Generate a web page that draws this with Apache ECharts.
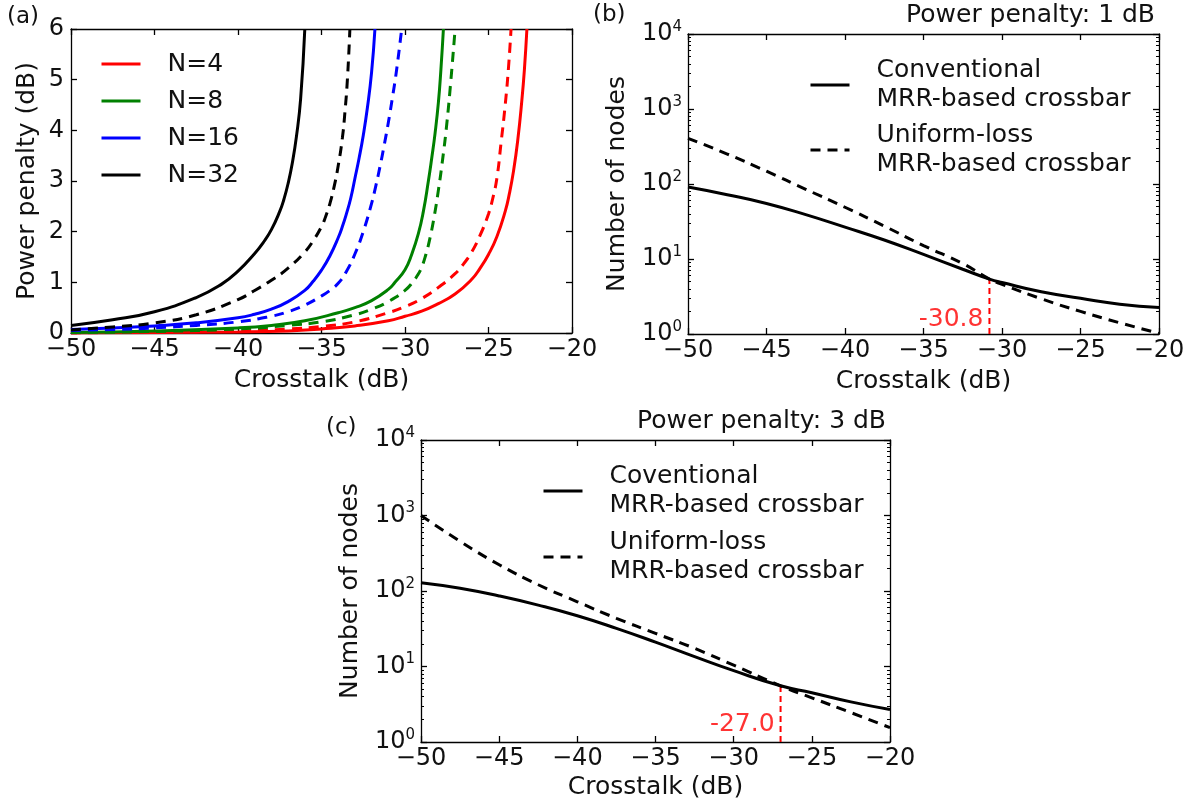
<!DOCTYPE html>
<html>
<head>
<meta charset="utf-8">
<script src="https://cdn.jsdelivr.net/npm/echarts@6/dist/echarts.min.js"></script>
<style>
html, body { margin: 0; padding: 0; background: #fff; }
#chart { width: 1195px; height: 807px; }
</style>
</head>
<body>
<div id="chart"></div>
<script>
// ---------- Panel (a): power penalty vs. crosstalk, [crosstalk dB, penalty dB] ----------
const nodeLabels = ['N=4', 'N=8', 'N=16', 'N=32'];
const nodeColors = ['#ff0000', '#008000', '#0000ff', '#000000'];

const ppConvN4 = [[-50,0.0],[-45,0.01],[-40,0.02],[-37,0.04],[-35,0.08],[-33,0.14],[-31,0.24],[-30,0.33],[-29,0.43],[-28,0.58],[-27,0.77],[-26,1.06],[-25.5,1.28],[-25,1.55],[-24.5,1.9],[-24,2.4],[-23.75,2.75],[-23.5,3.2],[-23.25,3.8],[-23,4.6],[-22.85,5.2],[-22.7,6.0]];
const ppUnifN4 = [[-50,0.0],[-45,0.02],[-40,0.04],[-37,0.08],[-35,0.13],[-33,0.22],[-31,0.4],[-30,0.52],[-29,0.68],[-28,0.9],[-27,1.17],[-26.5,1.36],[-26,1.6],[-25.5,1.93],[-25,2.35],[-24.75,2.65],[-24.5,3.05],[-24.25,3.75],[-24,4.5],[-23.8,5.25],[-23.65,6.0]];
const ppConvN8 = [[-50,0.01],[-45,0.04],[-40,0.1],[-38,0.15],[-36,0.24],[-34,0.4],[-33,0.5],[-32,0.64],[-31,0.86],[-30.6,1.0],[-30,1.25],[-29.6,1.55],[-29.2,1.96],[-28.9,2.4],[-28.6,3.0],[-28.4,3.45],[-28.2,3.94],[-28,4.55],[-27.85,5.2],[-27.7,6.0]];
const ppUnifN8 = [[-50,0.01],[-45,0.03],[-40,0.08],[-37,0.15],[-35,0.22],[-33,0.36],[-32,0.47],[-31,0.62],[-30,0.84],[-29.5,1.02],[-29.25,1.14],[-29,1.3],[-28.75,1.55],[-28.5,1.88],[-28.25,2.3],[-28,2.82],[-27.75,3.42],[-27.5,4.12],[-27.25,5.0],[-27.0,6.0]];
const ppConvN16 = [[-50,0.07],[-47.5,0.1],[-45,0.14],[-42.5,0.2],[-40,0.3],[-39,0.37],[-38,0.47],[-37,0.62],[-36,0.84],[-35.5,1.02],[-35,1.24],[-34.5,1.52],[-34,1.88],[-33.75,2.1],[-33.5,2.36],[-33.25,2.66],[-33,3.05],[-32.75,3.45],[-32.5,3.9],[-32.25,4.45],[-32,5.15],[-31.8,6.0]];
const ppUnifN16 = [[-50,0.05],[-47.5,0.07],[-45,0.1],[-42.5,0.15],[-40,0.22],[-38,0.33],[-37,0.42],[-36,0.55],[-35,0.73],[-34.5,0.84],[-34,0.98],[-33.5,1.22],[-33,1.56],[-32.5,2.0],[-32,2.56],[-31.75,2.9],[-31.5,3.28],[-31.25,3.7],[-31,4.15],[-30.75,4.65],[-30.5,5.2],[-30.2,6.0]];
const ppConvN32 = [[-50,0.15],[-47.5,0.26],[-45,0.42],[-42.5,0.7],[-41,0.96],[-40,1.22],[-39,1.57],[-38.5,1.78],[-38,2.04],[-37.5,2.4],[-37.25,2.64],[-37,2.95],[-36.75,3.35],[-36.5,3.88],[-36.25,4.62],[-36.0,6.0]];
const ppUnifN32 = [[-50,0.06],[-47.5,0.12],[-45,0.2],[-42.5,0.36],[-40,0.66],[-39,0.84],[-38,1.04],[-37,1.28],[-36,1.6],[-35.5,1.82],[-35,2.1],[-34.75,2.3],[-34.5,2.55],[-34.25,2.88],[-34,3.3],[-33.75,3.85],[-33.6,4.35],[-33.45,5.0],[-33.3,6.0]];

// ---------- Panel (b): node count at 1 dB power penalty ----------
const crosstalkB = [-50,-47.5,-45,-42.5,-40,-37.5,-35,-32.5,-30.8,-30,-27.5,-25,-22.5,-20];
const nodesConvB = [91,72,55,39,26.6,17.9,11.5,7.3,5.4,4.85,3.65,3.0,2.5,2.26];
const nodesUnifB = [407,251,148,85,49,27.5,15.1,8.7,5.4,4.6,2.95,2.0,1.41,1.02];
const crossoverB = [-30.8, 5.4];

// ---------- Panel (c): node count at 3 dB power penalty ----------
const crosstalkC = [-50,-47.5,-45,-42.5,-40,-37.5,-35,-32.5,-30,-27,-25,-22.5,-20];
const nodesConvC = [129,109,86,65,47,32,21,13.5,8.8,5.55,4.5,3.4,2.69];
const nodesUnifC = [1000,455,223,121,72,43.5,27.5,17.4,10.4,5.55,3.85,2.45,1.55];
const crossoverC = [-27.0, 5.55];

const legendB = ['Conventional\nMRR-based crossbar', 'Uniform-loss\nMRR-based crossbar'];
const legendC = ['Coventional\nMRR-based crossbar', 'Uniform-loss\nMRR-based crossbar'];

// ---------- styling helpers ----------
const FONT = 'DejaVu Sans';
const INK = '#111';
const AXIS = { color: '#000', width: 1.3 };
const DASH = [10, 7];
const minorLogTicks = [];
for (let d = 1; d < 10000; d *= 10) for (let k = 2; k <= 9; k++) minorLogTicks.push(k * d);

const minusFmt = v => (v < 0 ? '\u2212' + (-v) : String(v));
const powFmt = v => '{b|10}{s|' + Math.round(Math.log10(v)) + '}';

function xAxes(grid, nameGap) {
  const base = {
    type: 'value', gridIndex: grid, min: -50, max: -20, interval: 5,
    axisLine: { show: true, onZero: false, lineStyle: AXIS },
    axisTick: { show: true, inside: true, length: 6, lineStyle: AXIS },
    splitLine: { show: false }
  };
  return [
    Object.assign({}, base, {
      position: 'bottom',
      axisLabel: { show: true, margin: 5, fontSize: 24, fontFamily: FONT, color: INK,
        formatter: minusFmt, showMinLabel: true, showMaxLabel: true },
      name: 'Crosstalk (dB)', nameLocation: 'middle', nameGap: nameGap,
      nameTextStyle: { fontSize: 25, fontFamily: FONT, color: INK }
    }),
    Object.assign({}, base, { position: 'top', axisLabel: { show: false } })
  ];
}

function logYAxes(grid, nameGap) {
  const base = {
    type: 'log', logBase: 10, gridIndex: grid, min: 1, max: 10000,
    splitLine: { show: false }
  };
  const major = {
    axisLine: { show: true, onZero: false, lineStyle: AXIS },
    axisTick: { show: true, inside: true, length: 6, lineStyle: AXIS }
  };
  const minor = {
    axisLine: { show: false },
    axisLabel: { show: false },
    axisTick: { show: true, inside: true, length: 3, customValues: minorLogTicks, lineStyle: { color: '#000', width: 1 } }
  };
  return [
    Object.assign({}, base, major, {
      position: 'left',
      axisLabel: { show: true, margin: 6, formatter: powFmt, showMinLabel: true, showMaxLabel: true,
        rich: {
          b: { fontSize: 24, fontFamily: FONT, color: INK },
          s: { fontSize: 15, fontFamily: FONT, color: INK, padding: [0, 0, 14, 0] }
        } },
      name: 'Number of nodes', nameLocation: 'middle', nameGap: nameGap,
      nameTextStyle: { fontSize: 25, fontFamily: FONT, color: INK }
    }),
    Object.assign({}, base, major, { position: 'right', axisLabel: { show: false } }),
    Object.assign({}, base, minor, { position: 'left' }),
    Object.assign({}, base, minor, { position: 'right' })
  ];
}

function curve(name, data, color, dashed, xi, yi) {
  return {
    type: 'line', name: name, data: data, xAxisIndex: xi, yAxisIndex: yi,
    symbol: 'none', smooth: 0.5, clip: true,
    lineStyle: { color: color, width: 3, type: dashed ? DASH : 'solid' },
    itemStyle: { color: color },
    emphasis: { disabled: true }
  };
}

const zip = (xs, ys) => xs.map((x, i) => [x, ys[i]]);

// ---------- series ----------
const series = [];
const convA = [ppConvN4, ppConvN8, ppConvN16, ppConvN32];
const unifA = [ppUnifN4, ppUnifN8, ppUnifN16, ppUnifN32];
nodeLabels.forEach((lab, i) => {
  series.push(curve(lab, convA[i], nodeColors[i], false, 0, 0));
  series.push(curve(lab + ' uniform-loss', unifA[i], nodeColors[i], true, 0, 0));
});

function nodePanel(xs, conv, unif, cross, names, xi, yi, labelY) {
  series.push(curve(names[0], zip(xs, conv), '#000', false, xi, yi));
  series.push(curve(names[1], zip(xs, unif), '#000', true, xi, yi));
  // red marker from the x axis up to the crossing of both curves
  series.push({
    type: 'line', name: 'crossover ' + xi, xAxisIndex: xi, yAxisIndex: yi,
    data: [[cross[0], 1], [cross[0], cross[1]]], symbol: 'none', z: 1,
    lineStyle: { color: '#ff0000', width: 2, type: [6, 4] }, emphasis: { disabled: true }
  });
  series.push({
    type: 'scatter', name: 'crossover label ' + xi, xAxisIndex: xi, yAxisIndex: yi,
    data: [[cross[0], labelY]], symbolSize: 0,
    label: { show: true, position: 'left', distance: 6, fontSize: 25, fontFamily: FONT, color: '#ff0000',
      formatter: p => p.value[0].toFixed(1) },
    emphasis: { disabled: true }
  });
}
nodePanel(crosstalkB, nodesConvB, nodesUnifB, crossoverB, legendB, 2, 2, 1.58);
nodePanel(crosstalkC, nodesConvC, nodesUnifC, crossoverC, legendC, 4, 6, 1.73);

// ---------- option ----------
const legendText = (pad, lh) => ({ fontSize: 25, fontFamily: FONT, color: INK, lineHeight: lh, padding: [0, 0, 0, pad] });
const legendBase = {
  orient: 'vertical', padding: 0, itemWidth: 39, itemHeight: 14, selectedMode: false,
  lineStyle: { width: 3 }, itemStyle: { opacity: 0, borderWidth: 0 }
};
const option = {
  animation: false,
  backgroundColor: '#fff',
  grid: [
    { left: 71, top: 29, width: 501, height: 304, containLabel: false, outerBoundsMode: 'none' },
    { left: 688, top: 34, width: 471, height: 300, containLabel: false, outerBoundsMode: 'none' },
    { left: 421, top: 440, width: 469, height: 302, containLabel: false, outerBoundsMode: 'none' }
  ],
  xAxis: [].concat(xAxes(0, 35), xAxes(1, 35), xAxes(2, 33)),
  yAxis: [
    {
      type: 'value', gridIndex: 0, min: 0, max: 6, interval: 1, position: 'left',
      axisLine: { show: true, onZero: false, lineStyle: AXIS },
      axisTick: { show: true, inside: true, length: 6, lineStyle: AXIS },
      axisLabel: { show: true, margin: 7, fontSize: 24, fontFamily: FONT, color: INK, showMinLabel: true, showMaxLabel: true },
      splitLine: { show: false },
      name: 'Power penalty (dB)', nameLocation: 'middle', nameGap: 31,
      nameTextStyle: { fontSize: 25, fontFamily: FONT, color: INK }
    },
    {
      type: 'value', gridIndex: 0, min: 0, max: 6, interval: 1, position: 'right',
      axisLine: { show: true, onZero: false, lineStyle: AXIS },
      axisTick: { show: true, inside: true, length: 6, lineStyle: AXIS },
      axisLabel: { show: false }, splitLine: { show: false }
    }
  ].concat(logYAxes(1, 58), logYAxes(2, 58)),
  legend: [
    Object.assign({}, legendBase, { data: nodeLabels, left: 100, top: 49, itemGap: 7, textStyle: legendText(22, 30) }),
    Object.assign({}, legendBase, { data: legendB, left: 809, top: 56, itemGap: 7, textStyle: legendText(22, 29) }),
    Object.assign({}, legendBase, { data: legendC, left: 542, top: 462, itemGap: 8, textStyle: legendText(22, 29) })
  ],
  graphic: [
    { type: 'text', x: 7, y: 17, style: { text: '(a)', font: '23px "DejaVu Sans"', fill: INK, verticalAlign: 'middle', textVerticalAlign: 'middle' } },
    { type: 'text', x: 593, y: 15, style: { text: '(b)', font: '23px "DejaVu Sans"', fill: INK, verticalAlign: 'middle', textVerticalAlign: 'middle' } },
    { type: 'text', x: 326, y: 428, style: { text: '(c)', font: '23px "DejaVu Sans"', fill: INK, verticalAlign: 'middle', textVerticalAlign: 'middle' } },
    { type: 'text', x: 1155, y: 15, style: { text: 'Power penalty: 1 dB', font: '25px "DejaVu Sans"', fill: INK, align: 'right', textAlign: 'right', verticalAlign: 'middle', textVerticalAlign: 'middle' } },
    { type: 'text', x: 886, y: 421, style: { text: 'Power penalty: 3 dB', font: '25px "DejaVu Sans"', fill: INK, align: 'right', textAlign: 'right', verticalAlign: 'middle', textVerticalAlign: 'middle' } }
  ],
  series: series
};

const chart = echarts.init(document.getElementById('chart'), null, { renderer: 'canvas' });
chart.setOption(option);
</script>
</body>
</html>
